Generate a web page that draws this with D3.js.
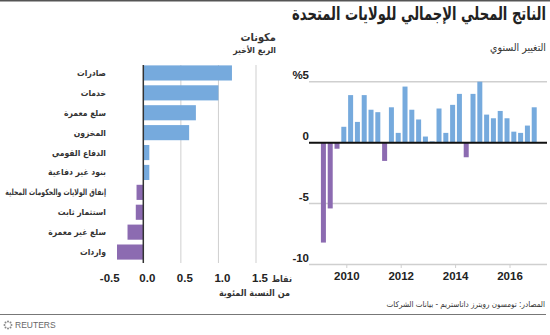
<!DOCTYPE html>
<html><head><meta charset="utf-8">
<script src="https://cdn.jsdelivr.net/npm/d3@7/dist/d3.min.js"></script>
<style>
html,body{margin:0;padding:0;background:#fff;}
svg{display:block;font-family:Arial,"Liberation Sans","DejaVu Sans",sans-serif;}
.ar{font-family:"DejaVu Sans Condensed","DejaVu Sans",sans-serif;}
</style></head>
<body>
<svg id="c" width="550" height="335"></svg>
<script>
// ---- Data ----
const title = "الناتج المحلي الإجمالي للولايات المتحدة";
const leftTitle = "مكونات";
const leftSubtitle = "الربع الأخير";
const rightTitle = "التغيير السنوي";
const leftUnit1 = "نقاط";
const leftUnit2 = "من النسبة المئوية";
const sourceText = "المصادر: تومسون رويترز داتاستريم - بيانات الشركات";

const categories = ["صادرات","خدمات","سلع معمرة","المخزون","الدفاع القومي","بنود غير دفاعية","إنفاق الولايات والحكومات المحلية","استثمار ثابت","سلع غير معمرة","واردات"];
const contributions = [1.18, 1.00, 0.70, 0.61, 0.08, 0.08, -0.09, -0.10, -0.21, -0.35];
const leftTicks = [-0.5, 0.0, 0.5, 1.0, 1.5];
const leftTickLabels = ["-0.5","0.0","0.5","1.0","1.5"];

const quarters = ["2008Q4","2009Q1","2009Q2","2009Q3","2009Q4","2010Q1","2010Q2","2010Q3","2010Q4","2011Q1","2011Q2","2011Q3","2011Q4","2012Q1","2012Q2","2012Q3","2012Q4","2013Q1","2013Q2","2013Q3","2013Q4","2014Q1","2014Q2","2014Q3","2014Q4","2015Q1","2015Q2","2015Q3","2015Q4","2016Q1","2016Q2","2016Q3"];
const growth = [-8.2,-5.4,-0.5,1.3,3.9,1.7,3.9,2.7,2.5,-1.5,2.9,0.8,4.6,2.7,1.9,0.5,0.1,2.8,0.8,3.1,4.0,-1.2,4.0,5.0,2.3,2.0,2.6,2.0,0.9,0.8,1.4,2.9];
const rightYTicks = [5, 0, -5, -10];
const rightYLabels = ["%5","0","-5","-10"];
const yearTicks = [2010, 2012, 2014, 2016];

// ---- Styles ----
const BLUE = "#76aadd", PURPLE = "#8c6bb1", GRID = "#cfcfcf";
const svg = d3.select("#c");

// RTL text anchored at its right edge (ax, ay); squeezed horizontally if wider than maxW
function rtlText(parent, ax, ay, size, bold, fill, txt, maxW) {
  const t = parent.append("text").attr("class","ar").attr("x", 0).attr("y", 0)
    .attr("direction", "rtl").attr("text-anchor", "start")
    .attr("font-size", size).attr("font-weight", bold ? "bold" : "normal")
    .attr("fill", fill).text(txt);
  const w = t.node().getComputedTextLength();
  const s = (maxW && w > maxW) ? maxW / w : 1;
  t.attr("transform", `translate(${ax},${ay}) scale(${s},1)`);
  return t;
}
const rtl = (x, y, size, bold, fill, txt, maxW) => rtlText(svg, x, y, size, bold, fill, txt, maxW);

// frame lines
svg.append("line").attr("x1",0).attr("x2",550).attr("y1",0.75).attr("y2",0.75).attr("stroke","#555").attr("stroke-width",1.5);
svg.append("line").attr("x1",0).attr("x2",546).attr("y1",314.5).attr("y2",314.5).attr("stroke","#777").attr("stroke-width",1);

// titles
rtl(546, 20, 18, true, "#222", title, 254);
rtl(276, 41, 11, true, "#333", leftTitle);
rtl(276, 53, 8.5, true, "#333", leftSubtitle);
rtl(546, 51, 10.5, false, "#333", rightTitle);

// ---- Left chart ----
const xL = d3.scaleLinear().domain([0, 1.5]).range([143.3, 256]);
const yL = d3.scaleBand().domain(categories).range([63, 262]).paddingInner(0.24).paddingOuter(0.12);
const gL = svg.append("g");
gL.selectAll("line.grid").data(leftTicks.filter(d => d > 0)).join("line")
  .attr("x1", d => xL(d)).attr("x2", d => xL(d)).attr("y1", 65).attr("y2", 263)
  .attr("stroke", GRID).attr("stroke-width", 1);
gL.selectAll("rect").data(categories).join("rect")
  .attr("x", (d,i) => xL(Math.min(0, contributions[i])))
  .attr("width", (d,i) => Math.abs(xL(contributions[i]) - xL(0)))
  .attr("y", d => yL(d)).attr("height", yL.bandwidth())
  .attr("fill", (d,i) => contributions[i] >= 0 ? BLUE : PURPLE);
gL.append("line").attr("x1", xL(0)).attr("x2", xL(0)).attr("y1", 65).attr("y2", 263)
  .attr("stroke", "#333").attr("stroke-width", 1.5);
categories.forEach(c => {
  rtlText(gL, 106, yL(c) + yL.bandwidth()/2 + 3, 8.5, true, "#333", c, 101);
});
gL.selectAll("text.tick").data(leftTicks).join("text").attr("class","tick")
  .attr("x", d => xL(d) + 4).attr("y", 282)
  .attr("text-anchor","middle").attr("font-size",11.5).attr("font-weight","bold").attr("fill","#222")
  .text((d,i) => leftTickLabels[i]);
rtl(292, 282, 9, true, "#333", leftUnit1);
rtl(290, 296, 9, true, "#333", leftUnit2);

// ---- Right chart ----
const xR = d3.scaleLinear().domain([2008.61, 2017.36]).range([309, 547]);
const yR = d3.scaleLinear().domain([-10, 5]).range([264.5, 81.7]);
const qDate = q => +q.slice(0,4) + (+q.slice(5) - 1) * 0.25 + 0.39;
const gR = svg.append("g");
gR.selectAll("line.grid").data(rightYTicks.filter(d => d !== 0)).join("line")
  .attr("x1", 309).attr("x2", 547).attr("y1", d => yR(d)).attr("y2", d => yR(d))
  .attr("stroke", GRID).attr("stroke-width", 1.5);
gR.selectAll("line.xt").data(yearTicks).join("line")
  .attr("x1", d => xR(d)).attr("x2", d => xR(d)).attr("y1", yR(-10)).attr("y2", yR(-10) + 3.5)
  .attr("stroke", GRID).attr("stroke-width", 1);
const bw = 5;
gR.selectAll("rect").data(quarters).join("rect")
  .attr("x", d => xR(qDate(d)) - bw/2).attr("width", bw)
  .attr("y", (d,i) => yR(Math.max(0, growth[i])))
  .attr("height", (d,i) => Math.abs(yR(growth[i]) - yR(0)))
  .attr("fill", (d,i) => growth[i] >= 0 ? BLUE : PURPLE);
gR.append("line").attr("x1", 309).attr("x2", 547).attr("y1", yR(0)).attr("y2", yR(0))
  .attr("stroke", "#111").attr("stroke-width", 2);
gR.selectAll("text.yl").data(rightYTicks).join("text").attr("class","yl")
  .attr("x", 309).attr("y", d => yR(d) - 2.5).attr("text-anchor","end")
  .attr("font-size",11.5).attr("font-weight","bold").attr("fill","#222")
  .text((d,i) => rightYLabels[i]);
gR.selectAll("text.xl").data(yearTicks).join("text").attr("class","xl")
  .attr("x", d => xR(d)).attr("y", 280).attr("text-anchor","middle")
  .attr("font-size",11.5).attr("font-weight","bold").attr("fill","#222").text(d => d);

// source
rtl(545, 307, 8, false, "#333", sourceText, 166);

// Reuters logo
const logo = svg.append("g").attr("transform","translate(8,325)");
d3.range(0, 360, 45).forEach(a => {
  const r = a * Math.PI / 180;
  logo.append("circle").attr("cx", 3.5*Math.cos(r)).attr("cy", 3.5*Math.sin(r)).attr("r", 1).attr("fill","#888");
});
svg.append("text").attr("x",15).attr("y",328).attr("font-size",8.5).attr("fill","#666").text("REUTERS");
</script>
</body></html>
